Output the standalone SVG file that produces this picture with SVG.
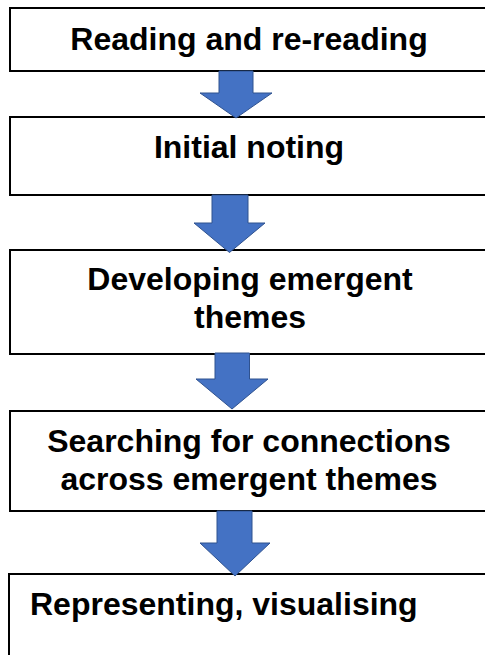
<svg xmlns="http://www.w3.org/2000/svg" width="485" height="655" viewBox="0 0 485 655">
  <style>
    .box { fill: #ffffff; stroke: #000000; stroke-width: 2; }
    .lbl { font-family: "Liberation Sans", Arial, sans-serif; font-weight: bold; font-size: 32px; fill: #000000; }
    .mid { text-anchor: middle; }
    .arrow { fill: #4472C4; stroke: #2F528F; stroke-width: 1; stroke-linejoin: miter; }
  </style>
  <rect width="485" height="655" fill="#ffffff"/>

  <g id="step1">
    <rect class="box" x="10" y="8" width="500" height="63"/>
    <text class="lbl mid" x="249" y="49.5">Reading and re-reading</text>
  </g>
  <g id="step2">
    <rect class="box" x="10" y="117" width="500" height="78"/>
    <text class="lbl mid" x="249" y="158">Initial noting</text>
  </g>
  <g id="step3">
    <rect class="box" x="10" y="250" width="500" height="104"/>
    <text class="lbl mid" x="250" y="290">Developing emergent</text>
    <text class="lbl mid" x="250" y="328">themes</text>
  </g>
  <g id="step4">
    <rect class="box" x="10" y="411" width="500" height="100"/>
    <text class="lbl mid" x="249" y="451.5">Searching for connections</text>
    <text class="lbl mid" x="249" y="490">across emergent themes</text>
  </g>
  <g id="step5">
    <rect class="box" x="9" y="574" width="500" height="120"/>
    <text class="lbl" x="30" y="615">Representing, visualising</text>
  </g>

  <g id="connectors">
    <polygon class="arrow" points="219,71 253,71 253,93 272,93 236,118 200,93 219,93"/>
    <polygon class="arrow" points="212,195 248,195 248,223 265,223 229.5,252.5 194,223 212,223"/>
    <polygon class="arrow" points="215,353 249.5,353 249.5,379 268,379 232,409 196,379 215,379"/>
    <polygon class="arrow" points="217,511 252,511 252,543 270,543 235,576 200,543 217,543"/>
  </g>
</svg>
